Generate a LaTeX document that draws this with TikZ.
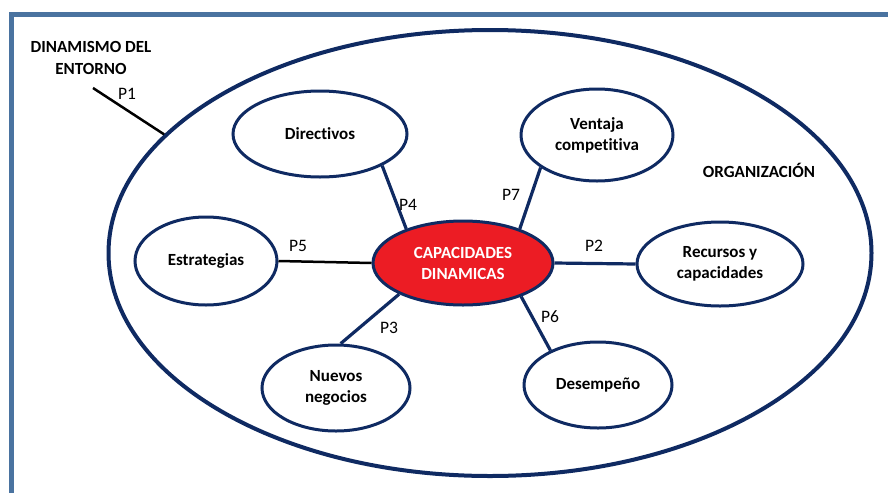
\documentclass[tikz,border=0pt]{standalone}
\usepackage{fontspec}
\setmainfont[Ligatures=NoCommon]{Carlito}
\usetikzlibrary{shapes.geometric}
\definecolor{navy}{HTML}{0F2A62}
\definecolor{framec}{HTML}{4A73A0}
\definecolor{capred}{HTML}{EC1C24}
\begin{document}
\begin{tikzpicture}[x=1pt,y=-1pt,
  oval/.style={ellipse,draw=navy,line width=3pt,inner sep=0pt,fill=white,
    font=\fontsize{17}{21}\selectfont\bfseries,align=center},
  blueline/.style={draw=navy,line width=3.2pt},
  blackline/.style={draw=black,line width=2.5pt},
  plabel/.style={font=\fontsize{17.5}{20}\selectfont,inner sep=0pt},
  bigtext/.style={font=\fontsize{17}{22}\selectfont\bfseries,align=center,inner sep=0pt}]
\useasboundingbox (0,0) rectangle (888,493);
% frame
\draw[framec,line width=5pt] (888,14.5) -- (11,14.5) -- (11,493);
% organization ellipse
\node[ellipse,draw=navy,line width=4pt,inner sep=0pt,minimum width=763pt,minimum height=446pt] (org) at (490,253) {};
% nodes
\node[oval,minimum width=174pt,minimum height=86pt] (dir) at (320,134) {Directivos};
\node[oval,minimum width=152pt,minimum height=92pt] (ven) at (597,135) {Ventaja\\competitiva};
\node[oval,minimum width=142pt,minimum height=88pt] (est) at (206,261) {Estrategias};
\node[oval,minimum width=166pt,minimum height=84pt] (rec) at (720,264) {Recursos y\\capacidades};
\node[oval,minimum width=148pt,minimum height=86pt] (nue) at (336,388) {Nuevos\\negocios};
\node[oval,minimum width=148pt,minimum height=86pt] (des) at (598,385) {Desempeño};
\node[oval,fill=capred,text=white,minimum width=180pt,minimum height=84pt] (cap) at (463,263) {CAPACIDADES\\DINAMICAS};
% connectors
\coordinate (ent) at (93,88);
\draw[blackline] (ent) -- (org.160.6);
\draw[blueline] (dir.-27) -- (cap.149);
\draw[blueline] (ven.210.6) -- (cap.31);
\draw[blackline] (est.east) -- (cap.west);
\draw[blueline] (cap.east) -- (rec.west);
\draw[blueline] (cap.206.6) -- (nue.84);
\draw[blueline] (cap.330) -- (des.144);
% labels
\node[plabel] (p1) at (127,94) {P1};
\node[plabel] (p4) at (408,205) {P4};
\node[plabel] (p7) at (511,195) {P7};
\node[plabel] (p5) at (298,246) {P5};
\node[plabel] (p2) at (594,246) {P2};
\node[plabel] (p3) at (389,328) {P3};
\node[plabel] (p6) at (550,317) {P6};
\node[bigtext] (din) at (91,58) {DINAMISMO DEL\\ENTORNO};
\node[bigtext] (orgl) at (759,170) {ORGANIZACIÓN};
\end{tikzpicture}
\end{document}
